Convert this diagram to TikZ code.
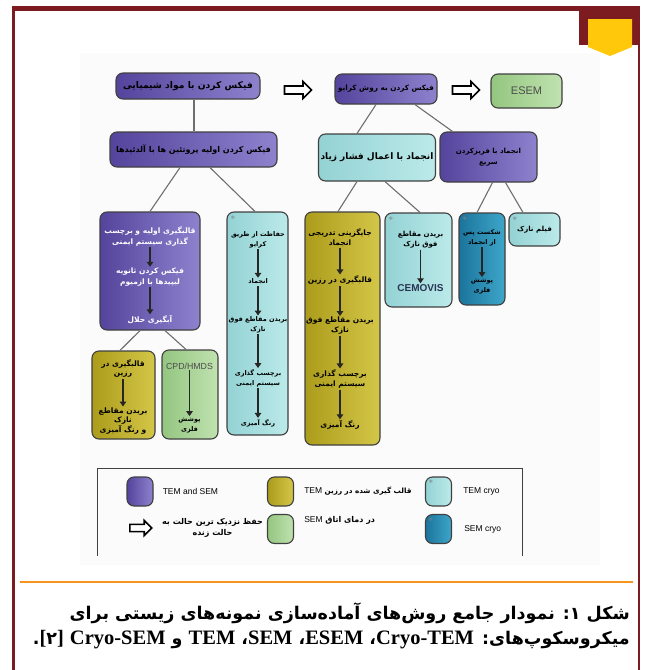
\documentclass[tikz,border=0pt]{standalone}
\usepackage{fontspec}
\setmainfont{Liberation Sans}
\newfontfamily\farsi[Script=Arabic]{DejaVu Sans}
\newfontfamily\latserif{Liberation Serif}
\newfontfamily\symfont{DejaVu Sans}
\TeXXeTstate=1
\usepackage{tikz}
\usetikzlibrary{shapes.arrows, arrows.meta, positioning}
\definecolor{purpleD}{RGB}{84,68,156}
\definecolor{purpleL}{RGB}{142,130,206}
\definecolor{cyanD}{RGB}{148,210,212}
\definecolor{cyanL}{RGB}{188,234,234}
\definecolor{goldD}{RGB}{172,156,28}
\definecolor{goldL}{RGB}{212,198,72}
\definecolor{greenD}{RGB}{148,198,128}
\definecolor{greenL}{RGB}{192,226,176}
\definecolor{tealD}{RGB}{28,116,156}
\definecolor{tealL}{RGB}{62,166,202}
\definecolor{boxline}{RGB}{64,64,64}
\definecolor{branchgray}{RGB}{110,110,110}
\definecolor{framered}{RGB}{125,28,32}
\definecolor{tabyellow}{RGB}{255,200,10}
\definecolor{rulecolor}{RGB}{247,148,29}
\definecolor{slate}{RGB}{40,52,84}
\newcommand{\rtline}[1]{\beginR #1\endR}
\newcommand{\capLatin}[1]{\beginL{\latserif\fontsize{20.5}{20}\selectfont #1}\endL}
\tikzstyle{roundbox} = [draw=boxline, line width=1.1pt, rounded corners=7pt]
\tikzstyle{purplebox} = [roundbox, left color=purpleD, right color=purpleL]
\tikzstyle{cyanbox} = [roundbox, left color=cyanD, right color=cyanL]
\tikzstyle{goldbox} = [roundbox, left color=goldD, right color=goldL]
\tikzstyle{greenbox} = [roundbox, left color=greenD, right color=greenL]
\tikzstyle{tealbox} = [roundbox, left color=tealD, right color=tealL]
\tikzstyle{keybox} = [minimum width=26pt, minimum height=29pt]
\tikzstyle{fatext} = [align=center, inner sep=1pt, font=\farsi\bfseries\fontsize{6.5}{10}\selectfont]
\tikzset{fasize/.style 2 args={font=\farsi\bfseries\fontsize{#1}{#2}\selectfont}}
\tikzstyle{keytext} = [inner sep=1pt, font=\fontsize{8.5}{10}\selectfont]
\tikzstyle{branch} = [draw=branchgray, line width=1.1pt]
\tikzstyle{steparrow} = [line width=1.6pt, draw=black!85, -{Triangle[length=5pt,width=6.5pt]}]
\tikzstyle{keeparrow} = [single arrow, draw=black, line width=1.6pt, fill=white, minimum height=27pt, inner sep=3.2pt, single arrow head extend=4.5pt]
\tikzstyle{snow} = [inner sep=0pt, text=gray, font=\symfont\fontsize{5}{5}\selectfont]

\begin{document}
\begin{tikzpicture}[x=1pt, y=-1pt]
            \useasboundingbox (0,0) rectangle (646,670);
            \fill[black!1.5] (80,53) rectangle (600,565);

            \fill[framered] (12,6) rectangle (640,11);
            \fill[framered] (12,6) rectangle (14.5,670);
            \fill[framered] (637.5,6) rectangle (640,670);
            \fill[framered] (579,6) rectangle (640,45);
            \fill[tabyellow] (588,19) -- (632,19) -- (632,47) -- (610,56) -- (588,47) -- cycle;

            \node[purplebox, minimum width=144pt, minimum height=26pt, fatext, fasize={9.2}{11}] (fixchem) at (188,86) {\rtline{فیکس کردن با مواد شیمیایی}};
            \node[keeparrow] (keep1) at (296,90) {};
            \node[purplebox, minimum width=102pt, minimum height=30pt, fatext, fasize={7.3}{10}] (fixcryo) at (386,89) {\rtline{فیکس کردن به روش کرایو}};
            \node[keeparrow] (keep2) at (464,90) {};
            \node[greenbox, minimum width=71pt, minimum height=34pt, text=black!70, font=\fontsize{11}{12}\selectfont] (esem) at (526.5,91) {ESEM};

            \node[purplebox, minimum width=167pt, minimum height=35pt, fatext, fasize={8}{10}] (fixald) at (193.5,149.5) {\rtline{فیکس کردن اولیه پروتئین ها با آلدئیدها}};
            \node[cyanbox, minimum width=117pt, minimum height=47pt, fatext, fasize={9}{11}] (hpf) at (377,157.5) {\rtline{انجماد با اعمال فشار زیاد}};
            \node[purplebox, minimum width=97pt, minimum height=50pt, fatext, fasize={7}{11}] (rapid) at (488.5,157) {\rtline{انجماد با فریزکردن}\\\rtline{سریع}};

            \node[purplebox, minimum width=100pt, minimum height=118pt] (embed) at (150,271) {};
            \node[fatext, fasize={7.5}{10.5}, text=white] (embed-1) at (150,236.5) {\rtline{قالبگیری اولیه و برچسب}\\\rtline{گذاری سیستم ایمنی}};
            \node[fatext, fasize={7.5}{10.5}, text=white] (embed-2) at (150,277) {\rtline{فیکس کردن ثانویه}\\\rtline{لیپیدها با ازمیوم}};
            \node[fatext, fasize={7.5}{10.5}, text=white] (embed-3) at (150,320) {\rtline{آبگیری حلال}};
            \draw[steparrow] (embed-1) -- (embed-2);
            \draw[steparrow] (embed-2) -- (embed-3);

            \node[cyanbox, minimum width=61pt, minimum height=223pt] (cryoprot) at (257.5,323.5) {};
            \node[snow] at (233,218) {❄};
            \node[fatext] (cryoprot-1) at (258,240) {\rtline{حفاظت از طریق}\\\rtline{کرایو}};
            \node[fatext] (cryoprot-2) at (258,282) {\rtline{انجماد}};
            \node[fatext] (cryoprot-3) at (258,325) {\rtline{بریدن مقاطع فوق}\\\rtline{نازک}};
            \node[fatext] (cryoprot-4) at (258,378) {\rtline{برچسب گذاری}\\\rtline{سیستم ایمنی}};
            \node[fatext] (cryoprot-5) at (258,423) {\rtline{رنگ آمیزی}};
            \draw[steparrow] (cryoprot-1) -- (cryoprot-2);
            \draw[steparrow] (cryoprot-2) -- (cryoprot-3);
            \draw[steparrow] (cryoprot-3) -- (cryoprot-4);
            \draw[steparrow] (cryoprot-4) -- (cryoprot-5);

            \node[goldbox, minimum width=63pt, minimum height=88pt] (resinsm) at (123.5,395) {};
            \node[fatext, fasize={7.5}{9.5}] (resinsm-1) at (123,368.5) {\rtline{قالبگیری در}\\\rtline{رزین}};
            \node[fatext, fasize={7.5}{9.5}] (resinsm-2) at (123,421) {\rtline{بریدن مقاطع}\\\rtline{نازک}\\\rtline{و رنگ آمیزی}};
            \draw[steparrow] (resinsm-1) -- (resinsm-2);

            \node[greenbox, minimum width=56pt, minimum height=89pt] (cpd) at (190,394.5) {};
            \node[keytext, text=black!70, font=\fontsize{8.8}{10}\selectfont] (cpd-1) at (189.5,366) {CPD/HMDS};
            \node[fatext] (cpd-2) at (189.5,425) {\rtline{پوشش}\\\rtline{فلزی}};
            \draw[steparrow] (cpd-1) -- (cpd-2);

            \node[goldbox, minimum width=75pt, minimum height=233pt] (freeze) at (342.5,328.5) {};
            \node[fatext, fasize={7.5}{10}] (freeze-1) at (340,238) {\rtline{جایگزینی تدریجی}\\\rtline{انجماد}};
            \node[fatext, fasize={7.5}{10}] (freeze-2) at (340,280) {\rtline{قالبگیری در رزین}};
            \node[fatext, fasize={7.5}{10}] (freeze-3) at (340,326) {\rtline{بریدن مقاطع فوق}\\\rtline{نازک}};
            \node[fatext, fasize={7.5}{10}] (freeze-4) at (340,379) {\rtline{برچسب گذاری}\\\rtline{سیستم ایمنی}};
            \node[fatext, fasize={7.5}{10}] (freeze-5) at (340,425) {\rtline{رنگ آمیزی}};
            \draw[steparrow] (freeze-1) -- (freeze-2);
            \draw[steparrow] (freeze-2) -- (freeze-3);
            \draw[steparrow] (freeze-3) -- (freeze-4);
            \draw[steparrow] (freeze-4) -- (freeze-5);

            \node[cyanbox, minimum width=67pt, minimum height=94pt] (cemovis) at (418.5,260) {};
            \node[snow] at (391,219) {❄};
            \node[fatext, fasize={7}{10}] (cemovis-1) at (420.5,240) {\rtline{بریدن مقاطع}\\\rtline{فوق نازک}};
            \node[keytext, text=slate, font=\bfseries\fontsize{10}{11}\selectfont] (cemovis-2) at (420.5,288) {CEMOVIS};
            \draw[steparrow] (cemovis-1) -- (cemovis-2);

            \node[tealbox, minimum width=46pt, minimum height=92pt] (freezefrac) at (482,259) {};
            \node[snow] at (465,219) {❄};
            \node[fatext] (freezefrac-1) at (482,238) {\rtline{شکست پس}\\\rtline{از انجماد}};
            \node[fatext] (freezefrac-2) at (482,286) {\rtline{پوشش}\\\rtline{فلزی}};
            \draw[steparrow] (freezefrac-1) -- (freezefrac-2);

            \node[cyanbox, minimum width=51pt, minimum height=33pt, fatext, fasize={7}{9}] (thinfilm) at (534.5,229.5) {\rtline{فیلم نازک}};
            \node[snow] at (515,219) {❄};

            \draw[branch] ([xshift=6pt]fixchem.south) -- ([xshift=6pt]fixchem.south |- fixald.north);
            \draw[branch] ([xshift=-13.5pt]fixald.south) -- (embed.north);
            \draw[branch] ([xshift=16.5pt]fixald.south) -- ([xshift=-2.5pt]cryoprot.north);
            \draw[branch] ([xshift=-10pt]embed.south) -- ([xshift=-3.5pt]resinsm.north);
            \draw[branch] ([xshift=15pt]embed.south) -- ([xshift=-4pt]cpd.north);
            \draw[branch] ([xshift=-10pt]fixcryo.south) -- ([xshift=-20pt]hpf.north);
            \draw[branch] ([xshift=29pt]fixcryo.south) -- ([xshift=-36pt]rapid.north);
            \draw[branch] ([xshift=-20pt]hpf.south) -- ([xshift=-4.5pt]freeze.north);
            \draw[branch] ([xshift=8pt]hpf.south) -- ([xshift=1.5pt]cemovis.north);
            \draw[branch] ([xshift=4pt]rapid.south) -- ([xshift=-5pt]freezefrac.north);
            \draw[branch] ([xshift=17pt]rapid.south) -- ([xshift=-11.5pt]thinfilm.north);

            \draw[draw=boxline, line width=1pt] (97,556) -- (97,468) -- (522,468) -- (522,556);
            \node[purplebox, keybox] (key-tem) at (140,491.5) {};
            \node[keytext, right=8pt of key-tem] (key-tem-text) {TEM and SEM};
            \node[goldbox, keybox] (key-resin) at (280.5,491.5) {};
            \node[fatext, fasize={7.2}{10}, right=9pt of key-resin] (key-resin-text) {\rtline{قالب گیری شده در رزین \beginL{\rmfamily\mdseries\fontsize{8.5}{10}\selectfont TEM}\endL}};
            \node[cyanbox, keybox] (key-temcryo) at (438.5,491.5) {};
            \node[snow] at (431,482) {❄};
            \node[keytext, right=10pt of key-temcryo] (key-temcryo-text) {TEM cryo};

            \node[keeparrow, minimum height=22pt, inner sep=2.8pt, single arrow head extend=4pt] (key-keep) at (139,528) {};
            \node[fatext, fasize={8}{11}, right=8pt of key-keep] (key-keep-text) {\rtline{حفظ نزدیک ترین حالت به}\\\rtline{حالت زنده}};
            \node[greenbox, keybox] (key-sem) at (280.5,529) {};
            \node[fatext, fasize={8}{10}, right=9pt of key-sem, yshift=9pt] (key-sem-text) {\rtline{در دمای اتاق \beginL{\rmfamily\mdseries\fontsize{8.5}{10}\selectfont SEM}\endL}};
            \node[tealbox, keybox] (key-semcryo) at (438.5,529) {};
            \node[snow] at (431,520) {❄};
            \node[keytext, right=11pt of key-semcryo] (key-semcryo-text) {SEM cryo};

            \draw[rulecolor, line width=2.5pt] (20,582) -- (633,582);
            \node[anchor=base east, inner sep=0pt, font=\farsi\bfseries\fontsize{17.5}{20}\selectfont] (caption-1) at (630,619) {\rtline{شکل ۱\kern0pt: نمودار جامع روش‌های آماده‌سازی نمونه‌های زیستی برای}};
            \node[anchor=base east, inner sep=0pt, font=\farsi\bfseries\fontsize{17.5}{20}\selectfont] (caption-2) at (630,644) {\rtline{میکروسکوپ‌های\kern0pt: \capLatin{Cryo-TEM}، \capLatin{ESEM}، \capLatin{SEM}، \capLatin{TEM} و \capLatin{Cryo-SEM} \beginL{\latserif\fontsize{20.5}{20}\selectfont[}۲{\latserif\fontsize{20.5}{20}\selectfont]}\endL\kern0pt.}};
\end{tikzpicture}
\end{document}
